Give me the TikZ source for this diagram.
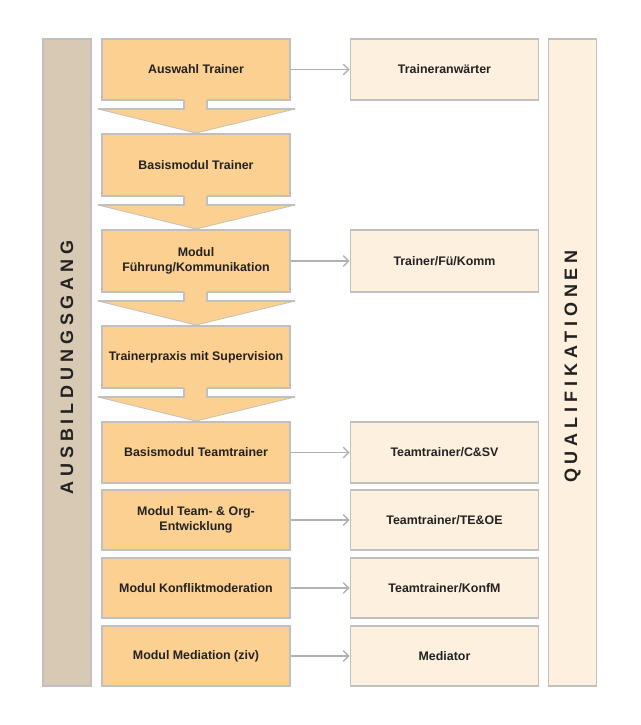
\documentclass[tikz,border=0pt]{standalone}
\usepackage{fontspec}
\setmainfont{Liberation Sans}
\usetikzlibrary{arrows.meta}
\definecolor{ora}{RGB}{252,208,144}
\definecolor{cream}{RGB}{254,240,222}
\definecolor{tanbar}{RGB}{216,201,181}
\definecolor{bord}{RGB}{192,192,192}
\definecolor{arrc}{RGB}{178,178,178}
\definecolor{txt}{RGB}{34,34,34}
\begin{document}
\begin{tikzpicture}[x=0.75pt,y=-0.75pt,
  box/.style={draw=bord,line width=1.3pt,minimum width=141pt,inner sep=0pt,align=center,
    font=\fontsize{9.3}{11}\selectfont\bfseries,text=txt},
  obox/.style={box,fill=ora},
  cbox/.style={box,fill=cream},
  bar/.style={draw=bord,line width=1.3pt,minimum width=36pt,minimum height=485.25pt,inner sep=0pt},
  vtext/.style={rotate=90,text=txt,font=\fontsize{13.5}{16}\selectfont\bfseries\addfontfeature{LetterSpace=27}},
  conn/.style={draw=arrc,line width=1.1pt,-{Straight Barb[length=4pt,width=8pt,line width=1.1pt]}},
  chevfill/.style={fill=ora},
  chevline/.style={draw=bord,line width=1.3pt,line join=miter}
]
\useasboundingbox (0,0) rectangle (640,725);

% side bars
\node[bar,fill=tanbar] (lb) at (67,362.5) {};
\node[vtext] (lt) at (67,367.5) {AUSBILDUNGSGANG};
\node[bar,fill=cream] (rb) at (572.5,362.5) {};
\node[vtext] (rt) at (572.5,366.5) {QUALIFIKATIONEN};

% orange column
\node[obox,minimum height=45.75pt] (o1) at (196,69.5) {Auswahl Trainer};
\node[obox,minimum height=46.5pt] (o2) at (196,165) {Basismodul Trainer};
\node[obox,minimum height=46.5pt] (o3) at (196,261) {Modul\\Führung/Kommunikation};
\node[obox,minimum height=46.5pt] (o4) at (196,357) {Trainerpraxis mit Supervision};
\node[obox,minimum height=45.75pt] (o5) at (196,452.5) {Basismodul Teamtrainer};
\node[obox,minimum height=45pt] (o6) at (196,520) {Modul Team- \& Org-\\Entwicklung};
\node[obox,minimum height=45pt] (o7) at (196,588) {Modul Konfliktmoderation};
\node[obox,minimum height=45pt] (o8) at (196,656) {Modul Mediation (ziv)};

% chevrons
\foreach \b in {100,196,292,388} {
  \fill[chevfill] (184,\b-1.2) -- (184,\b+9) -- (98,\b+9) -- (196,\b+33) -- (295,\b+9) -- (207,\b+9) -- (207,\b-1.2) -- cycle;
  \draw[chevline] (184,\b) -- (184,\b+9) -- (98,\b+9);
  \draw[chevline] (295,\b+9) -- (207,\b+9) -- (207,\b);
  \draw[draw=bord,line width=0.6pt] (98,\b+9) -- (196,\b+33) -- (295,\b+9);
}

% qualification column
\node[cbox,minimum height=45.75pt] (q1) at (444.5,69.5) {Traineranwärter};
\node[cbox,minimum height=46.5pt] (q3) at (444.5,261) {Trainer/Fü/Komm};
\node[cbox,minimum height=45.75pt] (q5) at (444.5,452.5) {Teamtrainer/C\&SV};
\node[cbox,minimum height=45pt] (q6) at (444.5,520) {Teamtrainer/TE\&OE};
\node[cbox,minimum height=45pt] (q7) at (444.5,588) {Teamtrainer/KonfM};
\node[cbox,minimum height=45pt] (q8) at (444.5,656) {Mediator};

% connectors
\draw[conn] (o1.east) -- (q1.west);
\draw[conn] (o3.east) -- (q3.west);
\draw[conn] (o5.east) -- (q5.west);
\draw[conn] (o6.east) -- (q6.west);
\draw[conn] (o7.east) -- (q7.west);
\draw[conn] (o8.east) -- (q8.west);
\end{tikzpicture}
\end{document}
